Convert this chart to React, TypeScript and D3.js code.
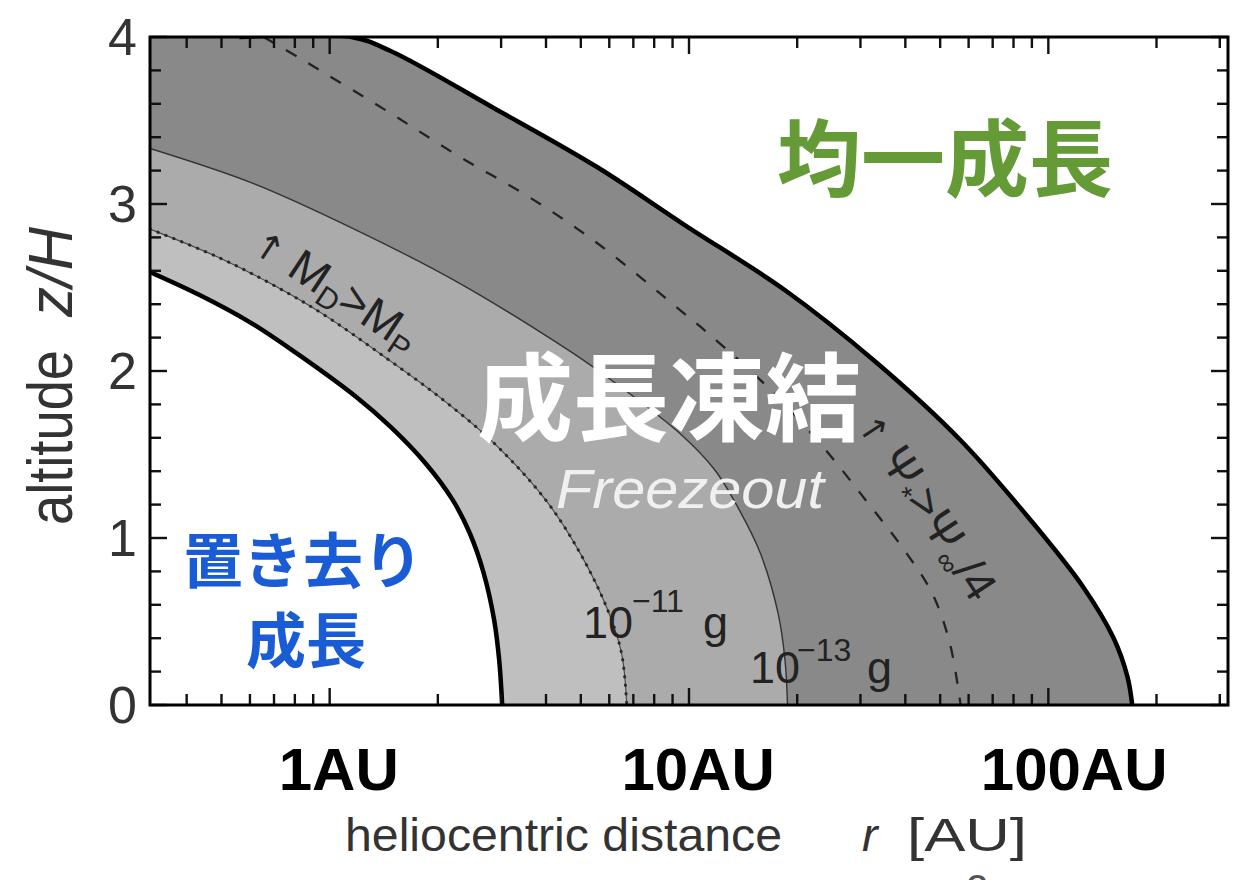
import React from "react";
import * as d3 from "d3";

type Pt = [number, number];

// ---- axis domains ----
const rDomain: [number, number] = [Math.pow(10, -0.5), Math.pow(10, 2.5)];
const zDomain: [number, number] = [0, 4];

// ---- curves: [r (AU), z/H] ----
// thick inner boundary (置き去り成長 / freezeout)
const innerBoundary: Pt[] = [
  [0.3162, 2.593], [0.4346, 2.455], [0.599, 2.293], [0.799, 2.114], [1.186, 1.844],
  [1.478, 1.665], [1.845, 1.449], [2.199, 1.228], [2.453, 1.03], [2.683, 0.79],
  [2.869, 0.509], [2.963, 0.269], [3.021, 0],
];
// 10^-11 g contour (dotted, M_D > M_P)
const mass11Curve: Pt[] = [
  [0.3162, 2.85], [0.491, 2.68], [0.683, 2.525], [0.951, 2.345], [1.41, 2.09],
  [2.06, 1.83], [2.87, 1.567], [3.99, 1.228], [4.98, 0.908], [5.94, 0.569],
  [6.49, 0.31], [6.71, 0],
];
// 10^-13 g contour
const mass13Curve: Pt[] = [
  [0.3162, 3.333], [0.612, 3.124], [1.186, 2.844], [2.3, 2.525], [4.46, 2.146],
  [5.56, 2.006], [9.42, 1.627], [11.8, 1.407], [13.8, 1.168], [15.8, 0.908],
  [17.7, 0.549], [18.5, 0.269], [18.8, 0],
];
// dashed Ψ* > Ψ∞/4
const psiCurve: Pt[] = [
  [0.655, 4.0], [0.833, 3.868], [1.478, 3.543], [2.3, 3.283], [3.575, 3.044],
  [5.56, 2.765], [9.44, 2.365], [11.27, 2.228], [16.52, 1.906], [23.15, 1.567],
  [31.0, 1.228], [39.7, 0.928], [47.5, 0.669], [53.2, 0.369], [57.0, 0],
];
// thick outer boundary (均一成長 / freezeout)
const outerBoundary: Pt[] = [
  [0.56, 4.0], [1.15, 4.0], [1.478, 3.916], [2.861, 3.575], [5.56, 3.22],
  [9.73, 2.874], [18.47, 2.485], [33.1, 2.054], [56.9, 1.587], [89.2, 1.108],
  [125, 0.707], [152, 0.4], [166, 0.17], [171.2, 0],
];

// ---- ticks ----
const xMajorTicks = [1, 10, 100];
const xMinorTicks = [
  0.4, 0.5, 0.6, 0.7, 0.8, 0.9,
  2, 3, 4, 5, 6, 7, 8, 9,
  20, 30, 40, 50, 60, 70, 80, 90,
  200, 300,
];
const yMajorTicks = [0, 1, 2, 3, 4];
const yMinorTicks = [
  0.2, 0.4, 0.6, 0.8, 1.2, 1.4, 1.6, 1.8, 2.2, 2.4, 2.6, 2.8, 3.2, 3.4, 3.6, 3.8,
];
const yTickLabels = ["0", "1", "2", "3", "4"];
const auLabels = ["1AU", "10AU", "100AU"];
const auLabelR = [1.06, 10.6, 118];

// ---- layout ----
const W = 1244;
const H = 880;
const X0 = 150;
const X1 = 1228;
const Y0 = 705;
const Y1 = 37;

const MATH = "'Liberation Sans', Arial, Helvetica, sans-serif";
const CJK = "'Noto Sans CJK JP', 'Noto Sans CJK SC', sans-serif";

const DARK = "#898989";
const MID = "#ababab";
const LIGHT = "#bfbfbf";

export default function App() {
  const x = d3.scaleLog().domain(rDomain).range([X0, X1]);
  const y = d3.scaleLinear().domain(zDomain).range([Y0, Y1]);

  const curve = d3.curveCatmullRom.alpha(0.5);
  const line = d3
    .line<Pt>()
    .x((d) => x(d[0]))
    .y((d) => y(d[1]))
    .curve(curve);
  const area = d3
    .area<Pt>()
    .x((d) => x(d[0]))
    .y0(y(0))
    .y1((d) => y(d[1]))
    .curve(curve);
  const withLeft = (pts: Pt[]): Pt[] =>
    pts[0][0] > rDomain[0] ? [[rDomain[0], pts[0][1]], ...pts] : pts;

  const majorLen = 17;
  const minorLen = 11;

  return (
    <svg
      width={W}
      height={H}
      viewBox={`0 0 ${W} ${H}`}
      style={{ position: "absolute", left: 0, top: 0, display: "block", background: "#fff" }}
    >
      <defs>
        <clipPath id="plot">
          <rect x={X0} y={Y1} width={X1 - X0} height={Y0 - Y1} />
        </clipPath>
      </defs>
      <rect x={0} y={0} width={W} height={H} fill="#fff" />

      <g clipPath="url(#plot)">
        <path d={area(withLeft(outerBoundary)) || ""} fill={DARK} />
        <path d={area(withLeft(mass13Curve)) || ""} fill={MID} />
        <path d={area(withLeft(mass11Curve)) || ""} fill={LIGHT} />
        <path d={area(withLeft(innerBoundary)) || ""} fill="#fff" />

        <path d={line(mass13Curve) || ""} fill="none" stroke="#333" strokeWidth={1.4} />
        <path d={line(mass11Curve) || ""} fill="none" stroke="#444" strokeWidth={1.1} />
        <path
          d={line(mass11Curve) || ""}
          fill="none"
          stroke="#2a2a2a"
          strokeWidth={3}
          strokeLinecap="round"
          strokeDasharray="0.5 8"
        />
        <path
          d={line(psiCurve) || ""}
          fill="none"
          stroke="#222"
          strokeWidth={2.3}
          strokeDasharray="12 14"
        />
        <path d={line(innerBoundary) || ""} fill="none" stroke="#000" strokeWidth={4.5} />
        <path d={line(outerBoundary) || ""} fill="none" stroke="#000" strokeWidth={4.5} />
      </g>

      {/* ticks */}
      <g stroke="#111" strokeWidth={2.4}>
        {xMajorTicks.map((v) => (
          <g key={"xM" + v}>
            <line x1={x(v)} x2={x(v)} y1={Y0} y2={Y0 - majorLen} />
            <line x1={x(v)} x2={x(v)} y1={Y1} y2={Y1 + majorLen} />
          </g>
        ))}
        {xMinorTicks.map((v) => (
          <g key={"xm" + v}>
            <line x1={x(v)} x2={x(v)} y1={Y0} y2={Y0 - minorLen} />
            <line x1={x(v)} x2={x(v)} y1={Y1} y2={Y1 + minorLen} />
          </g>
        ))}
        {yMajorTicks.map((v) => (
          <g key={"yM" + v}>
            <line x1={X0} x2={X0 + majorLen} y1={y(v)} y2={y(v)} />
            <line x1={X1} x2={X1 - majorLen} y1={y(v)} y2={y(v)} />
          </g>
        ))}
        {yMinorTicks.map((v) => (
          <g key={"ym" + v}>
            <line x1={X0} x2={X0 + minorLen} y1={y(v)} y2={y(v)} />
            <line x1={X1} x2={X1 - minorLen} y1={y(v)} y2={y(v)} />
          </g>
        ))}
      </g>

      {/* frame */}
      <rect
        x={X0}
        y={Y1}
        width={X1 - X0}
        height={Y0 - Y1}
        fill="none"
        stroke="#000"
        strokeWidth={3}
      />

      {/* y tick labels */}
      {yMajorTicks.map((v, i) => (
        <text
          key={"yl" + v}
          x={137}
          y={y(v) + 18}
          textAnchor="end"
          fontFamily={MATH}
          fontSize={52}
          fill="#333"
        >
          {yTickLabels[i]}
        </text>
      ))}

      {/* y title */}
      <text
        transform={`translate(72,525) scale(1.13,1) rotate(-90)`}
        fontFamily={MATH}
        fontSize={56}
        fill="#333"
        textLength={175}
        lengthAdjust="spacingAndGlyphs"
      >
        altitude
      </text>
      <text
        transform={`translate(72,317) scale(1.13,1) rotate(-90)`}
        fontFamily={MATH}
        fontSize={56}
        fontStyle="italic"
        fill="#333"
        textLength={90}
        lengthAdjust="spacingAndGlyphs"
      >
        z/H
      </text>

      {/* x title */}
      <text
        x={345}
        y={851}
        fontFamily={MATH}
        fontSize={47}
        fill="#333"
        textLength={437}
        lengthAdjust="spacingAndGlyphs"
      >
        heliocentric distance
      </text>
      <text x={862} y={851} fontFamily={MATH} fontSize={47} fontStyle="italic" fill="#333">
        r
      </text>
      <text
        x={907}
        y={851}
        fontFamily={MATH}
        fontSize={47}
        fill="#333"
        textLength={120}
        lengthAdjust="spacingAndGlyphs"
      >
        [AU]
      </text>
      <text x={966} y={903} fontFamily={MATH} fontSize={40} fill="#555">
        2
      </text>

      {/* AU labels */}
      {auLabels.map((s, i) => (
        <text
          key={s}
          x={x(auLabelR[i])}
          y={790}
          textAnchor="middle"
          fontFamily={MATH}
          fontWeight="bold"
          fontSize={60}
          fill="#000"
        >
          {s}
        </text>
      ))}

      {/* contour labels */}
      <text fontFamily={MATH} fill="#222">
        <tspan x={583} y={638} fontSize={45}>10</tspan>
        <tspan x={632} y={612} fontSize={32}>−11</tspan>
        <tspan x={703} y={638} fontSize={45}>g</tspan>
      </text>
      <text fontFamily={MATH} fill="#222">
        <tspan x={750} y={683} fontSize={45}>10</tspan>
        <tspan x={797} y={661} fontSize={32}>−13</tspan>
        <tspan x={867} y={683} fontSize={45}>g</tspan>
      </text>

      {/* rotated annotations */}
      <text
        transform="translate(328,302) rotate(33.5)"
        textAnchor="middle"
        fontFamily={MATH}
        fontSize={46}
        fill="#222"
      >
        <tspan fontFamily="'DejaVu Sans', sans-serif" fontSize={36}>↑</tspan>
        <tspan> M</tspan>
        <tspan fontSize={30} dy={8}>D</tspan>
        <tspan dy={-8}>&gt;M</tspan>
        <tspan fontSize={30} dy={8}>P</tspan>
      </text>
      <text
        transform="translate(914,514) rotate(57)"
        textAnchor="middle"
        fontFamily={MATH}
        fontSize={46}
        fill="#222"
      >
        <tspan fontFamily="'DejaVu Sans', sans-serif" fontSize={34}>↑</tspan>
        <tspan> Ψ</tspan>
        <tspan fontSize={28} dy={8}>*</tspan>
        <tspan dy={-8}>&gt;Ψ</tspan>
        <tspan fontSize={28} dy={8}>∞</tspan>
        <tspan dy={-8}>/4</tspan>
      </text>

      <text
        x={556}
        y={508}
        fontFamily={MATH}
        fontSize={56}
        fontStyle="italic"
        fill="#f0f0f0"
        textLength={268}
        lengthAdjust="spacingAndGlyphs"
      >
        Freezeout
      </text>

      {/* Japanese region labels */}
      <text x={669} y={433} textAnchor="middle" fontFamily={CJK} fontWeight={700} fontSize={96} fill="#ffffff">
        成長凍結
      </text>
      <text x={945} y={190} textAnchor="middle" fontFamily={CJK} fontWeight={700} fontSize={84} fill="#659b37">
        均一成長
      </text>
      <text x={303} y={583} textAnchor="middle" fontFamily={CJK} fontWeight={700} fontSize={60} fill="#1a5cd6">
        置き去り
      </text>
      <text x={306} y={663} textAnchor="middle" fontFamily={CJK} fontWeight={700} fontSize={60} fill="#1a5cd6">
        成長
      </text>
    </svg>
  );
}
